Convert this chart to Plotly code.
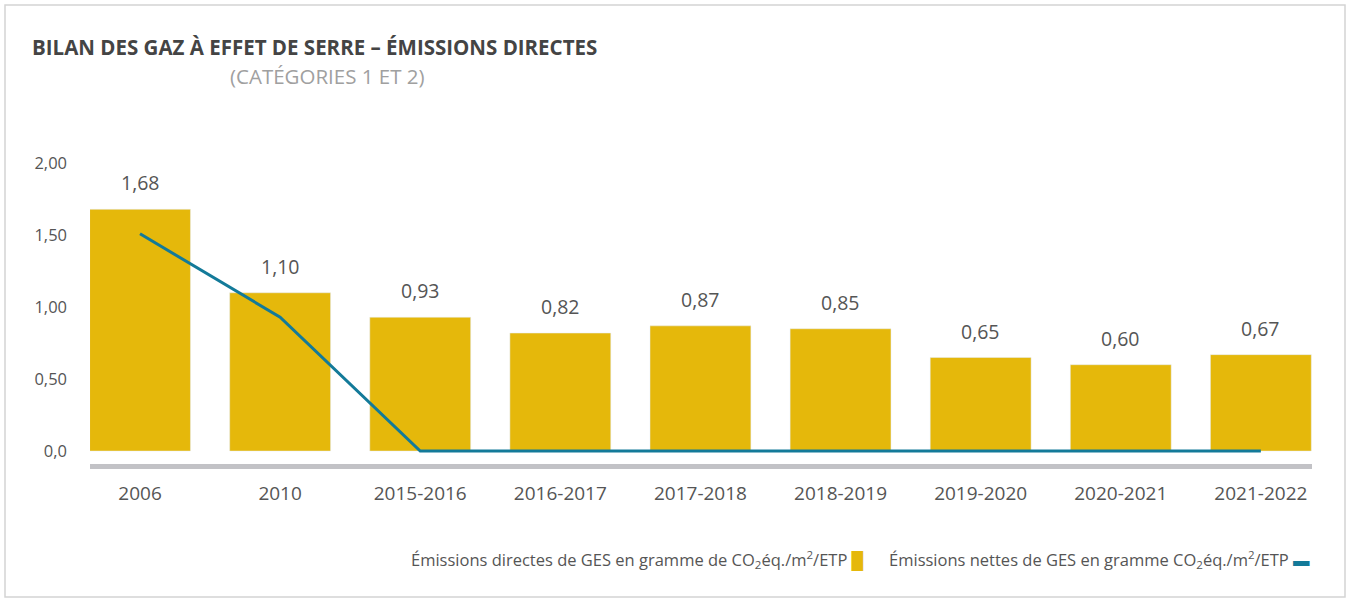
import plotly.graph_objects as go

# ── data ──────────────────────────────────────────────────────────────────────

PERIODS = ["2006", "2010", "2015-2016", "2016-2017", "2017-2018",
           "2018-2019", "2019-2020", "2020-2021", "2021-2022"]
DIRECT_EMISSIONS = [1.68, 1.10, 0.93, 0.82, 0.87, 0.85, 0.65, 0.60, 0.67]
NET_EMISSIONS = [1.51, 0.93, 0.0, 0.0, 0.0, 0.0, 0.0, 0.0, 0.0]
Y_TICKS = [0, 0.5, 1.0, 1.5, 2.0]
Y_TICK_TEXT = ["0,0", "0,50", "1,00", "1,50", "2,00"]

# ── style ─────────────────────────────────────────────────────────────────────

BAR_COLOR = "#E5B80B"
LINE_COLOR = "#137A99"
TEXT_COLOR = "#555555"
FONT = "Open Sans, Roboto, sans-serif"

# plot area in pixels: x 90..1312, y 146..464
W, H = 1351, 599
ML, MR, MT, MB = 90, 39, 146, 135
PW, PH = W - ML - MR, H - MT - MB


def px_x(p):
    return (p - ML) / PW


def px_y(p):
    return (H - MB - p) / PH


def fr(v):
    return f"{v:.2f}".replace(".", ",")


fig = go.Figure()
fig.add_trace(go.Bar(
    x=PERIODS, y=DIRECT_EMISSIONS, marker_color=BAR_COLOR,
    name="Émissions directes", showlegend=False,
))
fig.add_trace(go.Scatter(
    x=PERIODS, y=NET_EMISSIONS, mode="lines",
    line=dict(color=LINE_COLOR, width=3), showlegend=False,
))

# bar value labels (x given as category index: "2006" would be read as a number)
annotations = [
    dict(x=i, y=v, text=fr(v), showarrow=False, yanchor="bottom", yshift=11,
         font=dict(size=19.5, color=TEXT_COLOR, family=FONT))
    for i, v in enumerate(DIRECT_EMISSIONS)
]
annotations += [
    dict(xref="paper", yref="paper", x=px_x(30), y=px_y(47), xanchor="left",
         yanchor="middle", showarrow=False,
         text="<b>BILAN DES GAZ À EFFET DE SERRE – ÉMISSIONS DIRECTES</b>",
         font=dict(size=20.5, color="#444444", family=FONT)),
    dict(xref="paper", yref="paper", x=px_x(228), y=px_y(76), xanchor="left",
         yanchor="middle", showarrow=False, text="(CATÉGORIES 1 ET 2)",
         font=dict(size=20.5, color="#A0A0A0", family=FONT)),
    dict(xref="paper", yref="paper", x=px_x(1312), y=px_y(559), xanchor="right",
         yanchor="middle", showarrow=False,
         text=("Émissions directes de GES en gramme de CO<sub>2</sub>éq./m<sup>2</sup>/ETP "
               f"<span style='color:{BAR_COLOR}'>█</span>"
               "      Émissions nettes de GES en gramme CO<sub>2</sub>éq./m<sup>2</sup>/ETP "
               f"<span style='color:{LINE_COLOR}'>▬</span>"),
         font=dict(size=16.5, color=TEXT_COLOR, family=FONT)),
]

fig.update_layout(
    width=W, height=H,
    margin=dict(l=ML, r=MR, t=MT, b=MB),
    paper_bgcolor="white", plot_bgcolor="white",
    font=dict(family=FONT, color=TEXT_COLOR),
    bargap=0.28,
    annotations=annotations,
    shapes=[dict(type="rect", xref="paper", yref="paper",
                 x0=px_x(5), x1=px_x(1345), y0=px_y(597), y1=px_y(5),
                 line=dict(color="#D4D4D4", width=1.5), layer="below")],
)
fig.update_xaxes(
    type="category", range=[-0.357, 8.365], showgrid=False, zeroline=False,
    showline=True, linecolor="#C2C2C6", linewidth=5, ticks="",
    ticklabelstandoff=8, tickfont=dict(size=19, color=TEXT_COLOR),
)
fig.update_yaxes(
    range=[-0.09, 2.12], tickvals=Y_TICKS, ticktext=Y_TICK_TEXT,
    showgrid=False, zeroline=False, showline=False, ticks="",
    ticklabelstandoff=22, tickfont=dict(size=16.5, color=TEXT_COLOR),
)

fig.write_html("out.html", config={"displayModeBar": False},
               post_script="document.body.style.margin='0';")
